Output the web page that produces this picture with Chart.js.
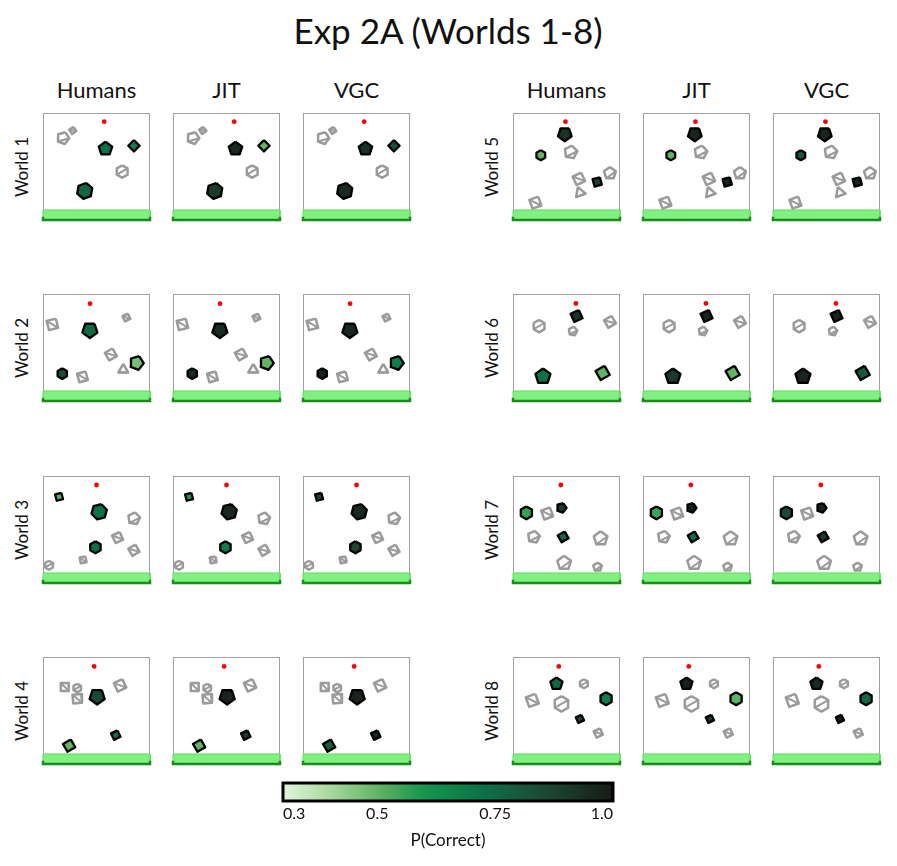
<!DOCTYPE html>
<html>
<head>
<meta charset="utf-8">
<script src="https://cdn.jsdelivr.net/npm/chart.js@4.4.0/dist/chart.umd.min.js"></script>
<style>
  body { margin: 0; background: #fff; width: 897px; height: 866px; position: relative; overflow: hidden; font-family: Lato, sans-serif; color: #111; }
  .t { position: absolute; white-space: nowrap; transform: translate(-50%, -50%); }
  .rot { transform: translate(-50%, -50%) rotate(-90deg); }
  canvas { position: absolute; }
</style>
</head>
<body>
<script>
const figTitle = 'Exp 2A (Worlds 1-8)';
const modelNames = ['Humans', 'JIT', 'VGC'];
const worldNames = ['World 1', 'World 2', 'World 3', 'World 4', 'World 5', 'World 6', 'World 7', 'World 8'];

// red ball start, panel units (0..100, y down)
const ballX = [57.2, 44, 50, 47.8, 49, 58.8, 44.7, 42.8];
const ballY = [8.1, 9, 8.4, 8.8, 8.1, 8.8, 8.4, 8.8];
const groundTop = 90.6;

// obstacles: [x, y, radius, sides, rotation, pHumans, pJIT, pVGC]  (null = grey, not scored)
const world1 = [
  [18.8, 23.4, 5.8, 5, 20, null, null, null],
  [27.8, 16.3, 3.4, 4, 10, null, null, null],
  [58.4, 33.4, 6.6, 5, 0, 0.73, 0.95, 0.93],
  [85.0, 30.6, 5.3, 4, 0, 0.68, 0.50, 0.82],
  [74.0, 54.7, 5.8, 6, 0, null, null, null],
  [39.0, 72.8, 7.5, 6, 10, 0.76, 0.90, 0.95],
];
const world2 = [
  [8.8, 28.4, 6.2, 4, 30, null, null, null],
  [78.0, 22.0, 3.9, 4, 20, null, null, null],
  [43.8, 33.8, 7.4, 5, 36, 0.75, 0.95, 0.96],
  [63.4, 56.5, 5.8, 4, 15, null, null, null],
  [87.5, 64.4, 6.7, 5, 20, 0.47, 0.50, 0.68],
  [75.0, 70.6, 5.3, 3, 0, null, null, null],
  [18.0, 74.4, 5.0, 6, 0, 0.84, 0.95, 0.98],
  [36.9, 77.5, 5.8, 4, 30, null, null, null],
];
const world3 = [
  [15.0, 19.4, 4.3, 4, 30, 0.52, 0.60, 0.87],
  [52.5, 33.4, 7.4, 6, 15, 0.72, 0.96, 0.96],
  [85.0, 39.7, 5.8, 5, 10, null, null, null],
  [69.7, 57.5, 5.5, 4, 20, null, null, null],
  [85.0, 69.4, 5.5, 4, 15, null, null, null],
  [49.0, 66.6, 5.6, 6, 0, 0.72, 0.68, 0.86],
  [37.5, 78.4, 3.9, 4, 35, null, null, null],
  [5.6, 83.4, 4.2, 6, 0, null, null, null],
];
const world4 = [
  [20.3, 28.0, 5.2, 4, 45, null, null, null],
  [32.0, 29.0, 4.0, 6, 0, null, null, null],
  [32.0, 39.0, 5.8, 4, 40, null, null, null],
  [50.6, 37.0, 7.4, 5, 36, 0.85, 0.97, 0.97],
  [72.0, 26.5, 6.2, 4, 20, null, null, null],
  [68.0, 73.0, 4.7, 4, 20, 0.72, 0.90, 0.96],
  [24.4, 82.8, 6.0, 4, 15, 0.50, 0.50, 0.80],
];
const world5 = [
  [48.4, 19.7, 6.7, 5, 36, 0.92, 0.97, 0.97],
  [26.0, 39.4, 4.7, 6, 0, 0.50, 0.50, 0.82],
  [54.0, 36.6, 6.2, 5, 10, null, null, null],
  [61.5, 61.5, 6.2, 4, 20, null, null, null],
  [78.7, 64.4, 5.0, 4, 30, 0.88, 0.97, 0.97],
  [90.6, 56.3, 5.8, 5, 0, null, null, null],
  [62.5, 74.4, 5.5, 3, -20, null, null, null],
  [20.9, 83.8, 6.2, 4, 25, null, null, null],
];
const world6 = [
  [59.4, 20.6, 6.0, 4, 20, 0.92, 0.97, 0.97],
  [24.4, 30.0, 5.8, 6, 0, null, null, null],
  [56.0, 34.7, 4.2, 5, 10, null, null, null],
  [90.6, 26.0, 5.8, 4, 15, null, null, null],
  [28.0, 77.0, 7.4, 5, 0, 0.72, 0.90, 0.97],
  [83.8, 73.8, 6.9, 4, 15, 0.50, 0.50, 0.80],
];
const world7 = [
  [12.5, 34.4, 6.0, 6, 0, 0.56, 0.55, 0.85],
  [31.9, 35.0, 6.2, 4, 25, null, null, null],
  [45.3, 29.7, 4.7, 5, 20, 0.90, 0.98, 0.98],
  [19.4, 56.9, 5.8, 5, 10, null, null, null],
  [46.9, 56.9, 5.3, 4, 15, 0.75, 0.72, 0.90],
  [81.9, 58.4, 6.7, 5, 0, null, null, null],
  [47.8, 81.3, 6.7, 5, 0, null, null, null],
  [79.0, 85.0, 4.2, 5, 0, null, null, null],
];
const world8 = [
  [40.6, 25.0, 6.0, 5, 0, 0.75, 0.98, 0.95],
  [66.3, 25.0, 4.2, 6, 0, null, null, null],
  [18.0, 40.6, 6.7, 4, 25, null, null, null],
  [45.3, 43.8, 7.2, 6, 0, null, null, null],
  [87.0, 39.0, 6.0, 6, 0, 0.68, 0.50, 0.75],
  [62.5, 57.8, 4.1, 4, 20, 0.86, 0.90, 0.98],
  [79.7, 71.0, 4.6, 4, 20, null, null, null],
];
const worlds = [world1, world2, world3, world4, world5, world6, world7, world8];

// colour bar
const cbMin = 0.3, cbMax = 1.0;
const cbTicks = [0.3, 0.5, 0.75, 1.0];
const cmapStops = [[0.3, '#e2f6da'], [0.4, '#a8d9a0'], [0.5, '#62b465'], [0.6, '#16954f'], [0.72, '#0d7347'], [0.85, '#1c4a34'], [1.0, '#161c16']];

function hex2rgb(h) { return [1, 3, 5].map(i => parseInt(h.substr(i, 2), 16)); }
function cmap(v) {
  for (let i = 1; i < cmapStops.length; i++) {
    if (v <= cmapStops[i][0]) {
      const [v0, c0] = cmapStops[i - 1], [v1, c1] = cmapStops[i];
      const f = (v - v0) / (v1 - v0), a = hex2rgb(c0), b = hex2rgb(c1);
      return 'rgb(' + a.map((x, k) => Math.round(x + (b[k] - x) * f)).join(',') + ')';
    }
  }
  return cmapStops[cmapStops.length - 1][1];
}

function polygon(o) {
  const [x, y, r, n, rot] = o;
  const pts = [];
  for (let k = 0; k <= n; k++) {
    const a = (rot - 90 + 360 * k / n) * Math.PI / 180;
    pts.push({x: x + r * Math.cos(a), y: y + r * Math.sin(a)});
  }
  return pts;
}

function addText(txt, x, y, size, cls) {
  const d = document.createElement('div');
  d.className = 't' + (cls ? ' ' + cls : '');
  d.style.left = x + 'px'; d.style.top = y + 'px'; d.style.fontSize = size + 'px';
  d.textContent = txt;
  document.body.appendChild(d);
}

const boxPlugin = {
  id: 'box',
  beforeDatasetsDraw(chart) {
    const {ctx, chartArea: a} = chart;
    ctx.save();
    ctx.strokeStyle = '#a0a0a0';
    ctx.lineWidth = 1;
    ctx.strokeRect(a.left + 0.5, a.top + 0.5, a.width - 1, a.height - 1);
    ctx.restore();
  }
};

const panelLeft = [43, 173, 303, 513, 643, 773];
const panelTop = [113, 294, 476, 657];
const panelSize = 107, pad = 4;

function makePanel(w, m) {
  const col = (w < 4 ? 0 : 3) + m, row = w % 4;
  const cv = document.createElement('canvas');
  cv.width = panelSize + 2 * pad; cv.height = panelSize + 2 * pad;
  cv.style.left = (panelLeft[col] - pad) + 'px';
  cv.style.top = (panelTop[row] - pad) + 'px';
  document.body.appendChild(cv);

  const ds = [];
  ds.push({
    data: [{x: ballX[w], y: ballY[w]}], showLine: false,
    pointRadius: 2.4, pointBackgroundColor: '#ff0000', pointBorderWidth: 0
  });
  worlds[w].forEach(o => {
    const p = o[5 + m];
    const pts = polygon(o);
    if (p == null) {
      // broken grey outline: inner chord
      const n = o[3], h = Math.floor(n / 2);
      ds.push({
        data: [pts[1], pts[h + 1]], showLine: true, fill: false, pointRadius: 0, clip: false,
        borderColor: '#9a9a9a', borderWidth: 2
      });
    }
    ds.push({
      data: pts, showLine: true, fill: 'shape', tension: 0, pointRadius: 0, clip: false,
      backgroundColor: p == null ? '#ffffff' : cmap(p),
      borderColor: p == null ? '#9a9a9a' : '#000000',
      borderWidth: p == null ? 2.5 : 2.3, borderJoinStyle: 'round'
    });
  });
  ds.push({
    data: [{x: 0, y: 97}, {x: 0, y: 100}, {x: 100, y: 100}, {x: 100, y: 97}],
    showLine: true, fill: false, pointRadius: 0, borderColor: '#1a8c1a', borderWidth: 2.5, clip: false
  });
  ds.push({
    data: [{x: 0, y: groundTop}, {x: 100, y: groundTop}, {x: 100, y: 100}, {x: 0, y: 100}, {x: 0, y: groundTop}],
    showLine: true, fill: 'shape', pointRadius: 0, backgroundColor: '#80f080', borderColor: '#60dd60', borderWidth: 1, clip: false
  });

  new Chart(cv.getContext('2d'), {
    type: 'scatter',
    data: {datasets: ds},
    options: {
      responsive: false, animation: false, events: [],
      layout: {padding: pad},
      scales: {
        x: {type: 'linear', min: 0, max: 100, display: false},
        y: {type: 'linear', min: 0, max: 100, reverse: true, display: false}
      },
      plugins: {legend: {display: false}, tooltip: {enabled: false}}
    },
    plugins: [boxPlugin]
  });
}

addText(figTitle, 448, 30, 35);
for (let c = 0; c < 6; c++) addText(modelNames[c % 3], panelLeft[c] + panelSize / 2, 89, 22);
for (let w = 0; w < 8; w++) {
  addText(worldNames[w], w < 4 ? 21 : 491, panelTop[w % 4] + panelSize / 2, 17, 'rot');
  for (let m = 0; m < 3; m++) makePanel(w, m);
}

// colour bar
const cbPlugin = {
  id: 'cbar',
  beforeDatasetsDraw(chart) {
    const {ctx, chartArea: a} = chart;
    const g = ctx.createLinearGradient(a.left, 0, a.right, 0);
    cmapStops.forEach(([v, c]) => g.addColorStop((v - cbMin) / (cbMax - cbMin), c));
    ctx.save();
    ctx.fillStyle = g;
    ctx.fillRect(a.left, a.top, a.width, a.height);
    ctx.strokeStyle = '#000';
    ctx.lineWidth = 3;
    ctx.strokeRect(a.left, a.top, a.width, a.height);
    ctx.restore();
  }
};
const cb = document.createElement('canvas');
cb.width = 360; cb.height = 76;
cb.style.left = '270px'; cb.style.top = '775px';
document.body.appendChild(cb);
new Chart(cb.getContext('2d'), {
  type: 'scatter',
  data: {datasets: [{data: []}]},
  options: {
    responsive: false, animation: false, events: [],
    layout: {padding: {left: 13, right: 17, top: 8, bottom: 0}},
    scales: {
      x: {
        type: 'linear', min: cbMin, max: cbMax,
        afterBuildTicks: s => { s.ticks = cbTicks.map(v => ({value: v})); },
        afterFit: s => { s.height = 50; },
        ticks: {align: 'inner', maxRotation: 0, padding: 3, color: '#111', font: {family: 'Lato', size: 16},
                callback: v => v === 1 ? '1.0' : String(v)},
        grid: {display: false, drawTicks: false},
        border: {display: false},
        title: {display: true, text: 'P(Correct)', color: '#111', font: {family: 'Lato', size: 17}, padding: {top: 3, bottom: 0}}
      },
      y: {display: false, min: 0, max: 1}
    },
    plugins: {legend: {display: false}, tooltip: {enabled: false}}
  },
  plugins: [cbPlugin]
});
</script>
</body>
</html>
